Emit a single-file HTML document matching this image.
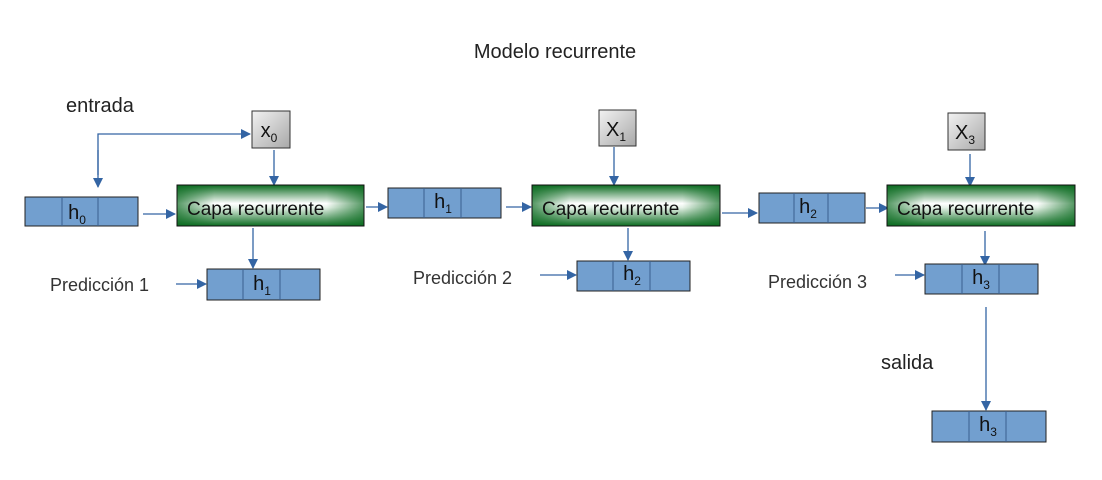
<!DOCTYPE html>
<html><head><meta charset="utf-8"><style>body{margin:0;background:#fff}svg{display:block}text{font-family:"Liberation Sans",sans-serif}</style></head><body>
<svg width="1102" height="480" viewBox="0 0 1102 480" xmlns="http://www.w3.org/2000/svg">
<defs>
<linearGradient id="g" x1="0" y1="0" x2="0" y2="1"><stop offset="0" stop-color="#0b6b20"/><stop offset="0.45" stop-color="#ffffff"/><stop offset="0.55" stop-color="#e6f2e8"/><stop offset="1" stop-color="#0b6b20"/></linearGradient>
<linearGradient id="gh" x1="0" y1="0" x2="1" y2="0"><stop offset="0" stop-color="#0b6b20" stop-opacity="0.7"/><stop offset="0.2" stop-color="#0b6b20" stop-opacity="0"/><stop offset="0.8" stop-color="#0b6b20" stop-opacity="0"/><stop offset="1" stop-color="#0b6b20" stop-opacity="0.7"/></linearGradient>
<linearGradient id="gr" x1="0" y1="0" x2="1" y2="1"><stop offset="0" stop-color="#f2f2f2"/><stop offset="1" stop-color="#a8a8a8"/></linearGradient>
<marker id="a" markerWidth="10" markerHeight="10" refX="9" refY="5" orient="auto" markerUnits="userSpaceOnUse"><path d="M0,0 L10,5 L0,10 z" fill="#3465a4"/></marker>
</defs>
<text x="555" y="58" font-size="20" text-anchor="middle" fill="#222">Modelo recurrente</text>
<text x="66" y="112" font-size="20" fill="#222">entrada</text>
<text x="881" y="369" font-size="20" fill="#222">salida</text>
<text x="50" y="291" font-size="18" fill="#333">Predicción 1</text>
<text x="413" y="284" font-size="18" fill="#333">Predicción 2</text>
<text x="768" y="288" font-size="18" fill="#333">Predicción 3</text>
<g stroke="#3465a4" stroke-width="1.3" fill="none" marker-end="url(#a)">
<path d="M98,175 V134 H250"/><path d="M98,150 V187"/>
<path d="M143,214 H175"/><path d="M274,150 V185"/><path d="M253,228 V268"/><path d="M176,284 H206"/>
<path d="M366,207 H387"/><path d="M506,207 H531"/><path d="M614,147 V185"/><path d="M628,228 V260"/><path d="M540,275 H576"/>
<path d="M722,213 H757"/><path d="M866,208 H888"/><path d="M970,154 V186"/><path d="M985,231 V265"/><path d="M895,275 H924"/>
<path d="M986,307 V410"/>
</g>
<g fill="#729fcf" stroke="#222" stroke-width="1">
<rect x="25" y="197" width="113" height="29"/><rect x="207" y="269" width="113" height="31"/>
<rect x="388" y="188" width="113" height="30"/><rect x="577" y="261" width="113" height="30"/>
<rect x="759" y="193" width="106" height="30"/><rect x="925" y="264" width="113" height="30"/>
<rect x="932" y="411" width="114" height="31"/>
</g>
<g stroke="#3a5f8f" stroke-width="1">
<path d="M62,197V226M98,197V226M243,269V300M280,269V300M424,188V218M461,188V218M613,261V291M650,261V291M794,193V223M828,193V223M962,264V294M999,264V294M969,411V442M1006,411V442"/>
</g>
<g font-size="20" fill="#111" text-anchor="middle">
<text x="77" y="219">h<tspan font-size="12" dy="5">0</tspan></text>
<text x="262" y="290">h<tspan font-size="12" dy="5">1</tspan></text>
<text x="443" y="208">h<tspan font-size="12" dy="5">1</tspan></text>
<text x="632" y="280">h<tspan font-size="12" dy="5">2</tspan></text>
<text x="808" y="213">h<tspan font-size="12" dy="5">2</tspan></text>
<text x="981" y="284">h<tspan font-size="12" dy="5">3</tspan></text>
<text x="988" y="431">h<tspan font-size="12" dy="5">3</tspan></text>
</g>
<g stroke="#333" stroke-width="1" fill="url(#gr)">
<rect x="252" y="111" width="38" height="37"/><rect x="599" y="110" width="37" height="36"/><rect x="948" y="113" width="37" height="37"/>
</g>
<g font-size="20" fill="#111" text-anchor="middle">
<text x="269" y="137">x<tspan font-size="12" dy="5">0</tspan></text>
<text x="616" y="136">X<tspan font-size="12" dy="5">1</tspan></text>
<text x="965" y="139">X<tspan font-size="12" dy="5">3</tspan></text>
</g>
<g stroke="#111" stroke-width="1">
<rect x="177" y="185" width="187" height="41" fill="url(#g)"/><rect x="177" y="185" width="187" height="41" fill="url(#gh)"/>
<rect x="532" y="185" width="188" height="41" fill="url(#g)"/><rect x="532" y="185" width="188" height="41" fill="url(#gh)"/>
<rect x="887" y="185" width="188" height="41" fill="url(#g)"/><rect x="887" y="185" width="188" height="41" fill="url(#gh)"/>
</g>
<g font-size="19" fill="#111">
<text x="187" y="215">Capa recurrente</text>
<text x="542" y="215">Capa recurrente</text>
<text x="897" y="215">Capa recurrente</text>
</g>
</svg>
</body></html>
